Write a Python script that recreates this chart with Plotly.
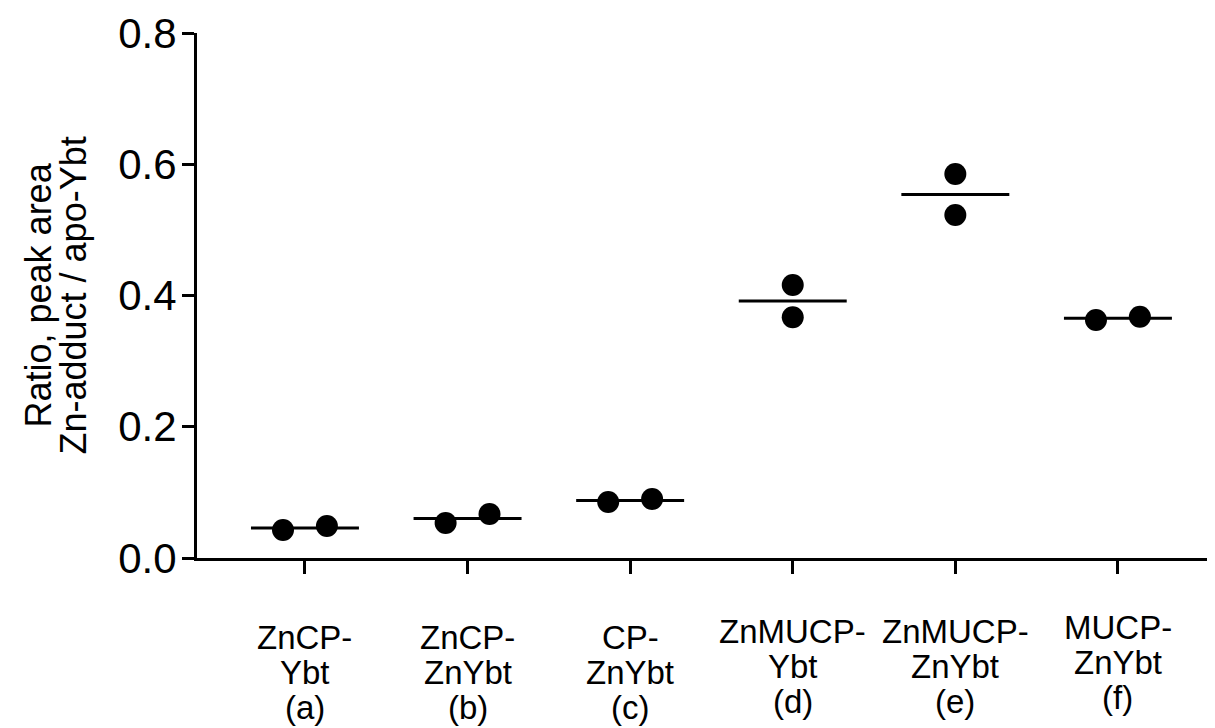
import plotly.graph_objects as go

categories = ["ZnCP-<br>Ybt<br>(a)", "ZnCP-<br>ZnYbt<br>(b)", "CP-<br>ZnYbt<br>(c)",
              "ZnMUCP-<br>Ybt<br>(d)", "ZnMUCP-<br>ZnYbt<br>(e)", "MUCP-<br>ZnYbt<br>(f)"]
rep1 = [0.0427, 0.0533, 0.0853, 0.416, 0.585, 0.3627]
rep2 = [0.0488, 0.0670, 0.0900, 0.367, 0.5227, 0.3677]
y_ticks = [0.0, 0.2, 0.4, 0.6, 0.8]
y_title_lines = ["Ratio, peak area", "Zn-adduct / apo-Ybt"]

FONT = "Liberation Sans, Arial, sans-serif"
JIT = 0.135
HALF = 0.332
PX_PER_UNIT = 656.0
MARKER = 22

fig = go.Figure()

# points
xs, ys = [], []
for i, (a, b) in enumerate(zip(rep1, rep2)):
    lo, hi = sorted([a, b])
    if (hi - lo) * PX_PER_UNIT < MARKER:
        xs += [i - JIT, i + JIT]
    else:
        xs += [i, i]
    ys += [lo, hi]
fig.add_trace(go.Scatter(x=xs, y=ys, mode="markers",
                         marker=dict(size=MARKER, color="black", line=dict(width=0)),
                         showlegend=False, cliponaxis=False))

# median lines
lx, ly = [], []
for i, (a, b) in enumerate(zip(rep1, rep2)):
    m = (a + b) / 2
    lx += [i - HALF, i + HALF, None]
    ly += [m, m, None]
fig.add_trace(go.Scatter(x=lx, y=ly, mode="lines", line=dict(color="black", width=3),
                         showlegend=False, cliponaxis=False))

# category labels, line by line (tight line spacing)
LINE_SHIFTS = [-79, -114, -149]
CAT_RAISE = [0, 0, 0, 6, 6, 10]
for i, lab in enumerate(categories):
    for j, part in enumerate(lab.split("<br>")):
        fig.add_annotation(x=i, xref="x", y=0, yref="paper", yanchor="middle",
                           xanchor="center", yshift=LINE_SHIFTS[j] + CAT_RAISE[i], text=part,
                           showarrow=False, font=dict(size=33, family=FONT, color="black"))

# y title, two rotated lines
for k, (line, xs_) in enumerate(zip(y_title_lines, [-159, -124])):
    fig.add_annotation(x=0, xref="paper", y=0.5, yref="paper", xshift=xs_,
                       xanchor="center", yanchor="middle", textangle=-90, text=line,
                       showarrow=False, font=dict(size=36, family=FONT, color="black"))

fig.update_layout(
    width=1207, height=720,
    margin=dict(l=189, r=0, t=25, b=170),
    plot_bgcolor="white", paper_bgcolor="white",
    font=dict(family=FONT, color="black"),
    xaxis=dict(range=[-0.664, 5.597], tickmode="array", tickvals=list(range(6)),
               ticktext=[""] * 6, showgrid=False, zeroline=False,
               showline=True, linecolor="black", linewidth=3,
               ticks="outside", ticklen=13, tickwidth=3, tickcolor="black"),
    yaxis=dict(range=[0, 0.8], tickmode="array", tickvals=y_ticks,
               ticktext=[f"{v:.1f}" for v in y_ticks], showgrid=False, zeroline=False,
               showline=True, linecolor="black", linewidth=3,
               ticks="outside", ticklen=12, tickwidth=3, tickcolor="black",
               tickfont=dict(size=42, family=FONT), ticklabelstandoff=-3),
)

fig.write_html("out.html")
